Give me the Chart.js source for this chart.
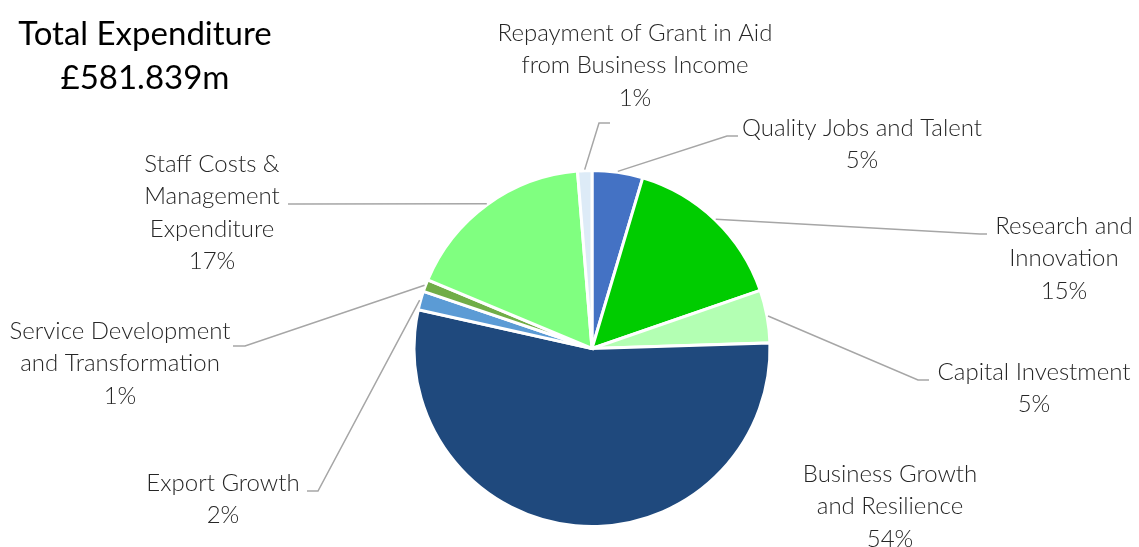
<!DOCTYPE html>
<html>
<head>
<meta charset="utf-8">
<script src="https://cdn.jsdelivr.net/npm/chart.js@4/dist/chart.umd.min.js"></script>
<style>
  html, body { margin: 0; padding: 0; background: #ffffff; }
  #wrap { width: 1139px; height: 547px; position: relative; }
</style>
</head>
<body>
<div id="wrap"><canvas id="pie" width="1139" height="547"></canvas></div>
<script>
// Spending categories, clockwise from 12 o'clock
const categories = [
  'Quality Jobs and Talent',
  'Research and Innovation',
  'Capital Investment',
  'Business Growth and Resilience',
  'Export Growth',
  'Service Development and Transformation',
  'Staff Costs & Management Expenditure',
  'Repayment of Grant in Aid from Business Income'
];

// Share of total expenditure, per cent
const shares = [4.6, 15.1, 4.8, 54.0, 1.7, 1.1, 17.4, 1.3];

// How each category name is broken over lines in its label
const labelLines = [
  ['Quality Jobs and Talent'],
  ['Research and', 'Innovation'],
  ['Capital Investment'],
  ['Business Growth', 'and Resilience'],
  ['Export Growth'],
  ['Service Development', 'and Transformation'],
  ['Staff Costs &', 'Management', 'Expenditure'],
  ['Repayment of Grant in Aid', 'from Business Income']
];

const titleLines = ['Total Expenditure', '£581.839m'];

const sliceColours = ['#4472C4', '#00CC00', '#B3FFB3', '#1F497D', '#5B9BD5', '#70AD47', '#80FF80', '#DDEBF7'];

// Label placement: text centre x, first line centre y, leader elbow and tail end
const labelLayout = [
  { cx: 862,  y: 128, elbow: [727, 136], tail: 738 },
  { cx: 1064, y: 226, elbow: [980, 234], tail: 987 },
  { cx: 1034, y: 372, elbow: [918, 380], tail: 929 },
  { cx: 890,  y: 474, elbow: null },
  { cx: 223,  y: 483, elbow: [318, 491], tail: 307 },
  { cx: 120,  y: 331, elbow: [245, 346], tail: 233 },
  { cx: 212,  y: 164, elbow: [296, 204], tail: 288 },
  { cx: 635,  y: 33,  elbow: [599, 123], tail: 610 }
];

const LABEL_FONT = '300 24px Lato, "Open Sans", sans-serif';
const TITLE_FONT = '400 33px Lato, "Open Sans", sans-serif';
const LINE_STEP = 32.5;

const outsideLabels = {
  id: 'outsideLabels',
  afterDatasetsDraw(chart) {
    const ctx = chart.ctx;
    const meta = chart.getDatasetMeta(0);
    const values = chart.data.datasets[0].data;
    const total = values.reduce((a, b) => a + b, 0);
    ctx.save();

    // leader lines
    ctx.strokeStyle = '#A6A6A6';
    ctx.lineWidth = 1.5;
    meta.data.forEach((arc, i) => {
      const lay = labelLayout[i];
      if (!lay.elbow) return;
      const mid = (arc.startAngle + arc.endAngle) / 2;
      const r = arc.outerRadius + 1;
      ctx.beginPath();
      ctx.moveTo(arc.x + Math.cos(mid) * r, arc.y + Math.sin(mid) * r);
      ctx.lineTo(lay.elbow[0], lay.elbow[1]);
      ctx.lineTo(lay.tail, lay.elbow[1]);
      ctx.stroke();
    });

    // category names and percentages
    ctx.fillStyle = '#262626';
    ctx.font = LABEL_FONT;
    ctx.textAlign = 'center';
    ctx.textBaseline = 'middle';
    meta.data.forEach((arc, i) => {
      const lay = labelLayout[i];
      const lines = labelLines[i].concat([Math.round(values[i] / total * 100) + '%']);
      lines.forEach((t, k) => ctx.fillText(t, lay.cx, lay.y + k * LINE_STEP));
    });

    // title
    ctx.fillStyle = '#000000';
    ctx.font = TITLE_FONT;
    ctx.fillText(titleLines[0], 145, 34);
    ctx.fillText(titleLines[1], 145, 78);
    ctx.restore();
  }
};

new Chart(document.getElementById('pie'), {
  type: 'pie',
  data: {
    labels: categories,
    datasets: [{
      data: shares,
      backgroundColor: sliceColours,
      borderColor: '#ffffff',
      borderWidth: 3,
      borderJoinStyle: 'miter'
    }]
  },
  options: {
    responsive: false,
    animation: false,
    radius: 178,
    layout: { padding: { left: 45, right: 0, top: 150, bottom: 0 } },
    plugins: {
      legend: { display: false },
      tooltip: { enabled: false },
      title: { display: false }
    }
  },
  plugins: [outsideLabels]
});
</script>
</body>
</html>
